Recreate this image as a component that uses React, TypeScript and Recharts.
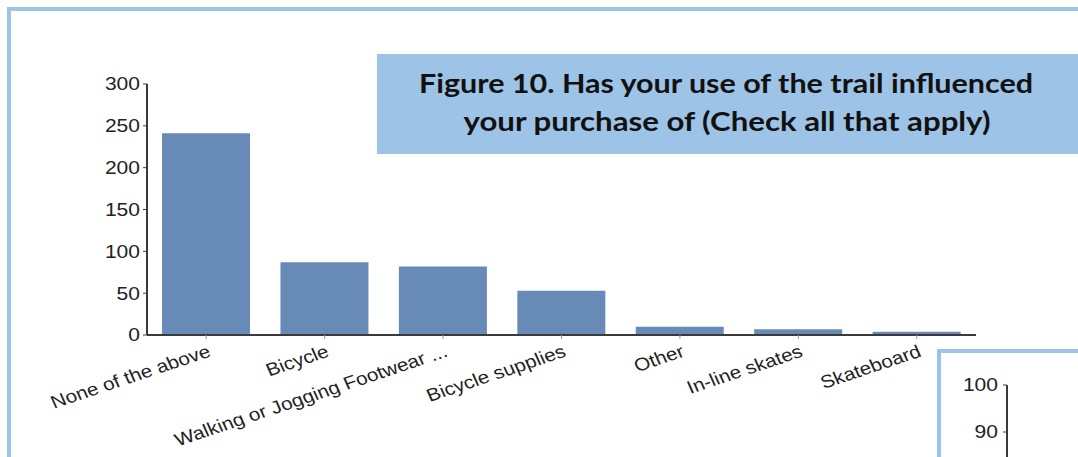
import React from 'react';
import { BarChart, Bar, XAxis, YAxis, LineChart, Line } from 'recharts';

const categories = [
  'None of the above',
  'Bicycle',
  'Walking or Jogging Footwear ...',
  'Bicycle supplies',
  'Other',
  'In-line skates',
  'Skateboard',
];
const responses = [241, 87, 82, 53, 10, 7, 4];
const yTicks = [0, 50, 100, 150, 200, 250, 300];
const insetTicks = [90, 100];
const insetCategories = ['a', 'b'];
const insetValues: (number | null)[] = [null, null];
const titleLines = [
  'Figure 10. Has your use of the trail influenced',
  'your purchase of (Check all that apply)',
];

const data = categories.map((c, i) => ({ category: c, responses: responses[i] }));
const insetData = insetCategories.map((c, i) => ({ category: c, value: insetValues[i] }));

const FRAME = '#9DC3E6';
const BAR = '#678AB6';
const AXIS = '#3a3a3a';
const FONT = '"Liberation Sans", Arial, sans-serif';

const YTick = (props: any) => {
  const { x, y, payload } = props;
  return (
    <g transform={`translate(${x},${y})`}>
      <text transform="scale(1.17,1)" textAnchor="end" dy="0.36em" fontSize={18} fill="#222" fontFamily={FONT}>
        {payload.value}
      </text>
    </g>
  );
};

const XTick = (props: any) => {
  const { x, y, payload } = props;
  return (
    <g transform={`translate(${x + 3},${y + 9})`}>
      <text transform="scale(1.15,1) rotate(-21)" textAnchor="end" dy="0.36em" fontSize={18} fill="#222" fontFamily={FONT}>
        {payload.value}
      </text>
    </g>
  );
};

export default function App() {
  return (
    <div style={{ position: 'absolute', left: 0, top: 0, width: 1078, height: 457, overflow: 'hidden', background: '#fff' }}>
      <div
        style={{
          position: 'absolute',
          left: 7,
          top: 7,
          width: 1200,
          height: 600,
          border: `4px solid ${FRAME}`,
          boxSizing: 'border-box',
        }}
      />
      <div style={{ position: 'absolute', left: 0, top: 0 }}>
        <BarChart
          width={1078}
          height={457}
          data={data}
          margin={{ top: 84, right: 102, bottom: 22, left: 87 }}
          barCategoryGap="12.7%"
        >
          <YAxis
            width={60}
            domain={[0, 300]}
            ticks={yTicks}
            interval={0}
            axisLine={{ stroke: AXIS, strokeWidth: 2 }}
            tickLine={{ stroke: AXIS }}
            tickSize={4}
            tickMargin={3}
            tick={<YTick />}
          />
          <XAxis
            dataKey="category"
            height={100}
            interval={0}
            axisLine={{ stroke: AXIS, strokeWidth: 2 }}
            tickLine={{ stroke: '#999' }}
            tickSize={4}
            tick={<XTick />}
          />
          <Bar dataKey="responses" fill={BAR} isAnimationActive={false} />
        </BarChart>
      </div>
      <svg style={{ position: 'absolute', left: 0, top: 0 }} width={1078} height={457} pointerEvents="none">
        <rect x={377} y={54} width={701} height={100} fill={FRAME} />
        <text
          x={726}
          y={93}
          textAnchor="middle"
          textLength={614}
          lengthAdjust="spacingAndGlyphs"
          fontSize={26}
          fontWeight="bold"
          fontFamily="Lato, 'Open Sans', sans-serif"
          fill="#111"
        >
          {titleLines[0]}
        </text>
        <text
          x={727}
          y={131}
          textAnchor="middle"
          textLength={527}
          lengthAdjust="spacingAndGlyphs"
          fontSize={26}
          fontWeight="bold"
          fontFamily="Lato, 'Open Sans', sans-serif"
          fill="#111"
        >
          {titleLines[1]}
        </text>
      </svg>
      <div
        style={{
          position: 'absolute',
          left: 937,
          top: 349,
          width: 220,
          height: 200,
          border: `4px solid ${FRAME}`,
          background: '#fff',
          overflow: 'hidden',
        }}
      >
        <LineChart width={200} height={512} data={insetData} margin={{ top: 32, right: 10, bottom: 10, left: 6 }}>
          <XAxis dataKey="category" hide />
          <YAxis
            type="number"
            width={60}
            domain={[0, 100]}
            ticks={insetTicks}
            interval={0}
            allowDataOverflow
            axisLine={{ stroke: AXIS, strokeWidth: 2 }}
            tickLine={{ stroke: AXIS }}
            tickSize={4}
            tickMargin={5}
            tick={<YTick />}
          />
          <Line dataKey="value" stroke={BAR} dot={false} isAnimationActive={false} />
        </LineChart>
      </div>
    </div>
  );
}
